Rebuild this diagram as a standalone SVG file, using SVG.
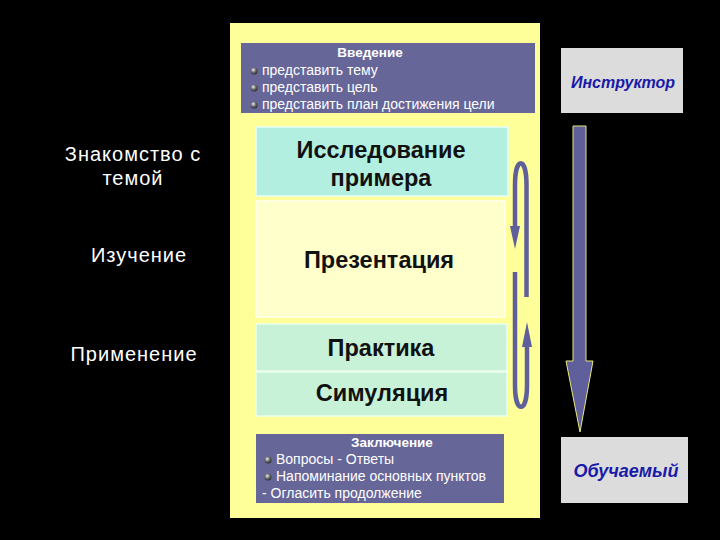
<svg xmlns="http://www.w3.org/2000/svg" width="720" height="540" viewBox="0 0 720 540">
<style>
.lbl{font-family:"Liberation Sans",Arial,sans-serif;fill:#ffffff;font-size:20px;letter-spacing:1px;text-anchor:middle}
.big{font-family:"Liberation Sans",Arial,sans-serif;fill:#111111;font-size:23.5px;font-weight:bold;text-anchor:middle}
.sm{font-family:"Liberation Sans",Arial,sans-serif;fill:#ffffff;font-size:14px}
.smb{font-family:"Liberation Sans",Arial,sans-serif;fill:#ffffff;font-size:13.5px;font-weight:bold;text-anchor:middle}
.role{font-family:"Liberation Sans",Arial,sans-serif;fill:#1a1aa8;font-weight:bold;font-style:italic;text-anchor:middle}
.purple{fill:#666699}
.cyc{fill:none;stroke:#5f5f9c;stroke-width:4.5}
.cyh{fill:#5f5f9c}
</style>
<defs>
<radialGradient id="ball" cx="0.4" cy="0.35" r="0.7">
<stop offset="0" stop-color="#f0f0f0"/>
<stop offset="0.45" stop-color="#777777"/>
<stop offset="1" stop-color="#222222"/>
</radialGradient>
</defs>
<rect x="0" y="0" width="720" height="540" fill="#000000"/>
<rect x="230" y="23" width="310" height="495" fill="#ffff99"/>

<g id="intro">
<rect class="purple" x="241" y="43" width="294" height="70"/>
<text class="smb" x="370" y="57">Введение</text>
<circle cx="254" cy="71" r="3.5" fill="url(#ball)"/>
<circle cx="254" cy="88" r="3.5" fill="url(#ball)"/>
<circle cx="254" cy="105" r="3.5" fill="url(#ball)"/>
<text class="sm" x="262" y="75">представить тему</text>
<text class="sm" x="262" y="92">представить цель</text>
<text class="sm" x="262" y="109">представить план достижения цели</text>
</g>

<g id="label-znakomstvo"><text class="lbl" x="133" y="161">Знакомство с</text><text class="lbl" x="133" y="185">темой</text></g>
<g id="label-izuchenie"><text class="lbl" x="139" y="262">Изучение</text></g>
<g id="label-primenenie"><text class="lbl" x="134" y="361">Применение</text></g>

<g id="issledovanie">
<rect x="256" y="127" width="252" height="69" fill="#b2efe0" stroke="#e6fff6" stroke-width="1.5"/>
<text class="big" x="381" y="158">Исследование</text>
<text class="big" x="381" y="186">примера</text>
</g>
<g id="prezentaciya">
<rect x="256" y="201" width="249" height="116" fill="#ffffcc" stroke="#fffff0" stroke-width="1.5"/>
<text class="big" x="379" y="268">Презентация</text>
</g>
<g id="praktika">
<rect x="256" y="324" width="251" height="47" fill="#c8f2d8" stroke="#eafff0" stroke-width="1.5"/>
<text class="big" x="381" y="356">Практика</text>
</g>
<g id="simulyaciya">
<rect x="256" y="372" width="251" height="44" fill="#c8f2d8" stroke="#eafff0" stroke-width="1.5"/>
<text class="big" x="382" y="401">Симуляция</text>
</g>

<g id="zaklyuchenie">
<rect class="purple" x="256" y="434" width="248" height="69"/>
<text class="smb" x="392" y="447">Заключение</text>
<circle cx="268" cy="460" r="3.5" fill="url(#ball)"/>
<circle cx="268" cy="477" r="3.5" fill="url(#ball)"/>
<text class="sm" x="276" y="464">Вопросы - Ответы</text>
<text class="sm" x="276" y="481">Напоминание основных пунктов</text>
<text class="sm" x="262" y="498">- Огласить продолжение</text>
</g>

<g id="instruktor">
<rect x="561" y="48" width="122" height="65" fill="#dcdcdc"/>
<text class="role" x="623" y="88" font-size="16">Инструктор</text>
</g>
<g id="obuchaemyi">
<rect x="561" y="437" width="127" height="66" fill="#dcdcdc"/>
<text class="role" x="626" y="477" font-size="18">Обучаемый</text>
</g>

<g id="connectors">
<polygon points="573,126 586,126 586,361 593,361 580,432 566,361 573,361" fill="#5f5f9c" stroke="#e8e87a" stroke-width="1"/>
<path class="cyc" d="M 526.5 297 L 526.5 185 C 526.5 156 515 156 515 185 L 515 228"/>
<polygon class="cyh" points="510,226 520,226 515,249"/>
<path class="cyc" d="M 515 272 L 515 385 C 515 414 527 414 527 385 L 527 345"/>
<polygon class="cyh" points="522,347 532,347 527,322"/>
</g>
</svg>
